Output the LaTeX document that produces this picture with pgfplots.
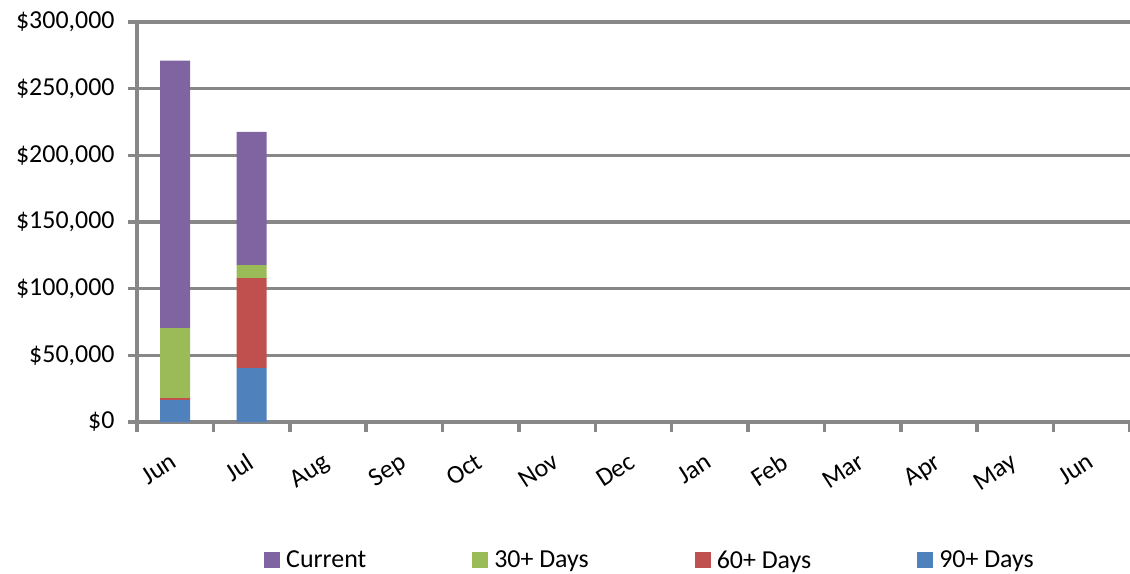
\documentclass[border=0pt]{standalone}
\usepackage{fontspec}
\setmainfont{Carlito}
\usepackage{pgfplots}
\pgfplotsset{compat=1.18}
\definecolor{cur}{HTML}{8064A2}
\definecolor{d30}{HTML}{9BBB59}
\definecolor{d60}{HTML}{C0504D}
\definecolor{d90}{HTML}{4F81BD}
\definecolor{gridc}{HTML}{878787}
\begin{document}
\begin{tikzpicture}
\begin{axis}[
  at={(0,0)}, anchor=south west,
  scale only axis, width=993bp, height=400bp,
  ybar stacked, bar width=30bp,
  xmin=-0.5, xmax=12.5, ymin=0, ymax=300000,
  axis x line=bottom, axis y line=left,
  axis line style={-, gridc, line width=3.5bp},
  ymajorgrids, grid style={gridc, line width=3.5bp},
  xtick={0,...,12},
  xticklabels={Jun,Jul,Aug,Sep,Oct,Nov,Dec,Jan,Feb,Mar,Apr,May,Jun},
  minor xtick={-0.5,0.5,...,12.5},
  major x tick style={draw=none},
  minor x tick style={gridc, line width=3.5bp},
  tick align=outside,
  major tick length=9bp, minor tick length=10bp,
  ytick={0,50000,...,300000},
  yticklabels={\$0,{\$50,000},{\$100,000},{\$150,000},{\$200,000},{\$250,000},{\$300,000}},
  y tick style={gridc, line width=3.5bp},
  scaled y ticks=false,
  ticklabel style={font=\fontsize{26}{30}\selectfont, text=black},
  yticklabel style={xshift=-10bp},
  xticklabel style={rotate=33, anchor=north east, yshift=-11bp, xshift=-13bp},
  legend columns=4,
  reverse legend,
  legend style={at={(0.5156,-0.345)}, anchor=center, draw=none, font=\fontsize{26}{30}\selectfont,
    nodes={inner xsep=0bp},
    /tikz/every odd column/.append style={column sep=6bp},
    /tikz/every even column/.append style={column sep=106bp}},
  legend image code/.code={\fill[#1] (0bp,-8bp) rectangle (16bp,8bp);},
]
\addplot[fill=d90, draw=none] coordinates {(0,16500) (1,40500)};
\addlegendentry{90+ Days}
\addplot[fill=d60, draw=none] coordinates {(0,1500) (1,67500)};
\addlegendentry{60+ Days}
\addplot[fill=d30, draw=none] coordinates {(0,52500) (1,9750)};
\addlegendentry{30+ Days}
\addplot[fill=cur, draw=none] coordinates {(0,200500) (1,99750)};
\addlegendentry{Current}
\end{axis}
\pgfresetboundingbox
\useasboundingbox (-137bp,-152bp) rectangle (993bp,422bp);
\end{tikzpicture}
\end{document}
